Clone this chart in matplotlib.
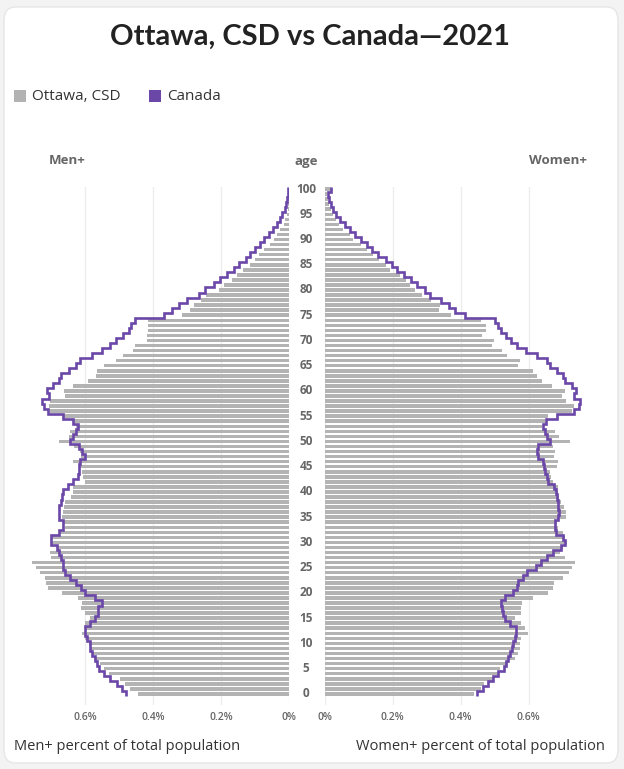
import numpy as np
import matplotlib
matplotlib.use("Agg")
import matplotlib.pyplot as plt
from matplotlib.patches import FancyBboxPatch, Rectangle
from matplotlib.transforms import blended_transform_factory

ages = list(range(0, 101))

men_ottawa = [0.445, 0.467, 0.481, 0.496, 0.530, 0.545, 0.555, 0.575, 0.580, 0.584,
              0.587, 0.601, 0.609, 0.600, 0.600, 0.585, 0.600, 0.612, 0.608, 0.622,
              0.668, 0.710, 0.714, 0.718, 0.731, 0.743, 0.756, 0.700, 0.704, 0.680,
              0.700, 0.700, 0.675, 0.658, 0.663, 0.668, 0.665, 0.663, 0.660, 0.641,
              0.636, 0.634, 0.601, 0.607, 0.609, 0.616, 0.634, 0.612, 0.614, 0.631,
              0.675, 0.648, 0.643, 0.626, 0.634, 0.661, 0.704, 0.707, 0.704, 0.658,
              0.661, 0.636, 0.592, 0.567, 0.565, 0.543, 0.508, 0.489, 0.459, 0.452,
              0.418, 0.418, 0.415, 0.415, 0.416, 0.315, 0.290, 0.278, 0.259, 0.243,
              0.207, 0.192, 0.168, 0.153, 0.135, 0.114, 0.099, 0.089, 0.075, 0.055,
              0.045, 0.035, 0.026, 0.016, 0.011, 0.007, 0.004, 0.003, 0.002, 0.001,
              0.001]

men_canada = [0.478, 0.491, 0.506, 0.526, 0.545, 0.558, 0.565, 0.570, 0.580, 0.584,
              0.586, 0.594, 0.599, 0.600, 0.584, 0.570, 0.563, 0.561, 0.550, 0.570,
              0.600, 0.612, 0.626, 0.643, 0.658, 0.665, 0.665, 0.670, 0.675, 0.682,
              0.700, 0.700, 0.675, 0.665, 0.665, 0.677, 0.677, 0.677, 0.672, 0.667,
              0.665, 0.651, 0.634, 0.622, 0.618, 0.618, 0.616, 0.601, 0.609, 0.618,
              0.645, 0.634, 0.626, 0.622, 0.634, 0.665, 0.709, 0.720, 0.726, 0.705,
              0.712, 0.695, 0.675, 0.670, 0.648, 0.626, 0.614, 0.579, 0.550, 0.526,
              0.508, 0.489, 0.470, 0.465, 0.452, 0.369, 0.344, 0.323, 0.300, 0.264,
              0.246, 0.222, 0.202, 0.181, 0.163, 0.148, 0.127, 0.114, 0.099, 0.086,
              0.073, 0.060, 0.047, 0.035, 0.026, 0.020, 0.011, 0.009, 0.006, 0.004,
              0.003]

women_ottawa = [0.440, 0.459, 0.468, 0.496, 0.510, 0.515, 0.540, 0.559, 0.569, 0.574,
                0.576, 0.579, 0.598, 0.591, 0.577, 0.561, 0.579, 0.579, 0.581, 0.613,
                0.657, 0.672, 0.675, 0.700, 0.719, 0.729, 0.736, 0.706, 0.694, 0.701,
                0.713, 0.706, 0.700, 0.687, 0.685, 0.709, 0.711, 0.703, 0.696, 0.689,
                0.686, 0.687, 0.672, 0.665, 0.662, 0.684, 0.687, 0.674, 0.677, 0.672,
                0.721, 0.689, 0.679, 0.640, 0.648, 0.657, 0.728, 0.733, 0.709, 0.699,
                0.706, 0.669, 0.641, 0.625, 0.613, 0.569, 0.574, 0.537, 0.523, 0.493,
                0.499, 0.464, 0.474, 0.476, 0.461, 0.371, 0.337, 0.339, 0.312, 0.287,
                0.265, 0.251, 0.241, 0.221, 0.192, 0.182, 0.159, 0.143, 0.126, 0.108,
                0.084, 0.074, 0.054, 0.042, 0.035, 0.025, 0.020, 0.013, 0.010, 0.008,
                0.020]

women_canada = [0.449, 0.466, 0.481, 0.496, 0.510, 0.528, 0.535, 0.540, 0.547, 0.550,
                0.553, 0.559, 0.564, 0.564, 0.545, 0.530, 0.525, 0.523, 0.520, 0.530,
                0.553, 0.567, 0.569, 0.584, 0.597, 0.623, 0.636, 0.655, 0.672, 0.697,
                0.706, 0.701, 0.682, 0.677, 0.679, 0.686, 0.689, 0.688, 0.687, 0.684,
                0.682, 0.674, 0.657, 0.653, 0.648, 0.645, 0.643, 0.628, 0.625, 0.628,
                0.662, 0.653, 0.648, 0.643, 0.650, 0.684, 0.733, 0.749, 0.751, 0.734,
                0.741, 0.728, 0.708, 0.701, 0.685, 0.662, 0.655, 0.626, 0.594, 0.567,
                0.548, 0.533, 0.518, 0.510, 0.500, 0.412, 0.383, 0.365, 0.342, 0.311,
                0.297, 0.273, 0.253, 0.234, 0.214, 0.199, 0.182, 0.157, 0.140, 0.126,
                0.106, 0.091, 0.076, 0.061, 0.047, 0.035, 0.025, 0.020, 0.013, 0.010,
                0.018]

x_ticks = [0.0, 0.2, 0.4, 0.6]
x_tick_labels = ["0%", "0.2%", "0.4%", "0.6%"]
age_ticks = list(range(0, 101, 5))

title = "Ottawa, CSD vs Canada\u20142021"
series_names = ["Ottawa, CSD", "Canada"]

GRAY = "#b3b3b3"
PURPLE = "#6b47a8"
LABEL = "#666666"
DARK = "#333333"

W, H = 624, 769
fig = plt.figure(figsize=(W / 100, H / 100), dpi=100)
fig.patch.set_facecolor("#f3f3f3")

# card
card = FancyBboxPatch((4 / W, 6 / H), 614 / W, 756 / H,
                      boxstyle="round,pad=0,rounding_size=0.018",
                      transform=fig.transFigure, facecolor="white",
                      edgecolor="#e6e6e6", linewidth=1.0, zorder=-5)
fig.patches.append(card)


def px_axes(x0, y_top, w, h):
    a = fig.add_axes([x0 / W, (H - y_top - h) / H, w / W, h / H])
    a.set_zorder(2)
    return a


ax_top, ax_bot = 186.5, 705
axL = px_axes(17, ax_top, 272, ax_bot - ax_top)
axR = px_axes(324.5, ax_top, 272, ax_bot - ax_top)

edges = np.arange(-0.5, 101.5, 1.0)
for ax, ott, can in ((axL, men_ottawa, men_canada), (axR, women_ottawa, women_canada)):
    ax.set_facecolor("none")
    ax.barh(ages, ott, height=0.7, color=GRAY, zorder=2)
    ax.stairs(can, edges, orientation="horizontal", baseline=None,
              color=PURPLE, linewidth=1.9, zorder=3)
    ax.set_ylim(-2.2, 100.5)
    ax.set_xticks(x_ticks)
    ax.set_xticklabels(x_tick_labels)
    ax.grid(axis="x", color="#ececec", linewidth=0.9, zorder=0)
    ax.set_axisbelow(True)
    ax.set_yticks([])
    for s in ax.spines.values():
        s.set_visible(False)
    ax.tick_params(axis="x", length=0, pad=5, labelsize=7.5, labelcolor=LABEL)
    for lab in ax.get_xticklabels():
        lab.set_fontfamily("Open Sans")
        lab.set_fontweight("semibold")

axL.set_xlim(0.8, 0)
axR.set_xlim(0, 0.8)

# age labels in the middle
tr = blended_transform_factory(fig.transFigure, axL.transData)
for a in age_ticks:
    fig.text(306 / W, a, str(a), transform=tr, ha="center", va="center",
             fontsize=8.5, fontweight="bold", color=LABEL, family="Open Sans")


def ftext(x, y, s, **kw):
    fig.text(x / W, 1 - y / H, s, **kw)


ftext(310, 37, title, ha="center", va="center", fontsize=21, fontweight="bold",
      color="#222222", family="Lato")
ftext(67, 161, "Men+", ha="center", va="center", fontsize=9.5, fontweight="bold",
      color=LABEL, family="Open Sans")
ftext(306, 161, "age", ha="center", va="center", fontsize=9.5, fontweight="bold",
      color=LABEL, family="Open Sans")
ftext(558, 161, "Women+", ha="center", va="center", fontsize=9.5, fontweight="bold",
      color=LABEL, family="Open Sans")

# legend
for (x0, name, col) in ((14, series_names[0], GRAY), (149, series_names[1], PURPLE)):
    fig.patches.append(Rectangle((x0 / W, 1 - 102 / H), 12 / W, 12 / H,
                                 transform=fig.transFigure, facecolor=col,
                                 edgecolor="none"))
    ftext(x0 + 18, 96, name, ha="left", va="center", fontsize=11, color=DARK,
          family="Open Sans")

# bottom axis titles
ftext(14, 747, "Men+ percent of total population", ha="left", va="center",
      fontsize=10.5, color=DARK, family="Open Sans")
ftext(605, 747, "Women+ percent of total population", ha="right", va="center",
      fontsize=10.5, color=DARK, family="Open Sans")

fig.savefig("out.png", dpi=100, facecolor=fig.get_facecolor())
